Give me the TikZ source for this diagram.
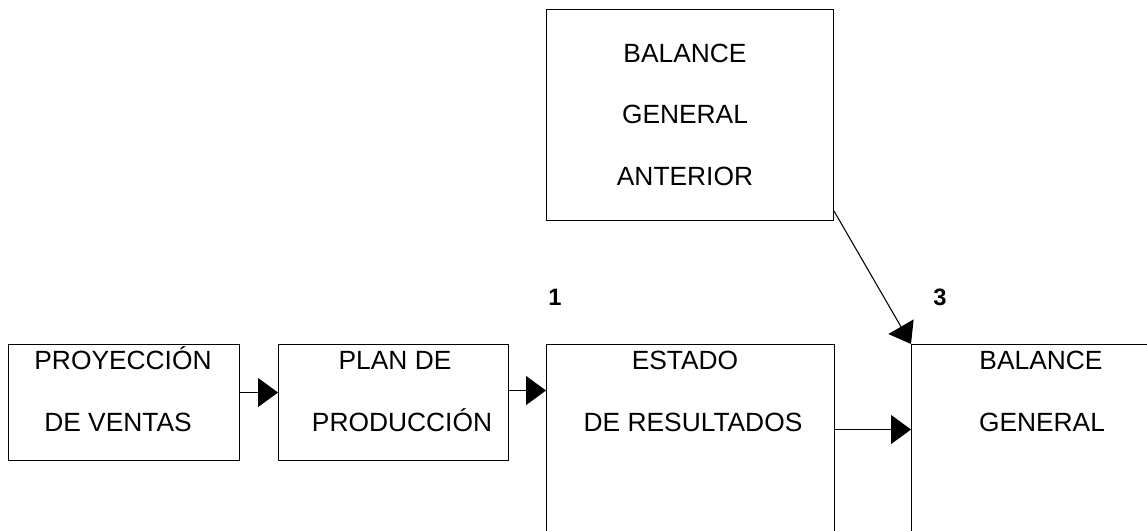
\documentclass[tikz,border=0pt]{standalone}
\usepackage{fontspec}
\setmainfont{Liberation Sans}
\usetikzlibrary{arrows.meta}

\begin{document}
\begin{tikzpicture}[x=0.02cm, y=-0.02cm, line width=0.6pt,
    every node/.style={font=\fontsize{15}{18}\selectfont},
    caja/.style={draw, rectangle, inner sep=0pt, anchor=north west},
    linea/.style={anchor=base, inner sep=0pt},
    numero/.style={anchor=base, inner sep=0pt, font=\fontsize{13.5}{16}\selectfont\bfseries},
    flecha/.style={-{Triangle[length=0.4cm, width=0.58cm]}}]
    \useasboundingbox (0,0) rectangle (1147,531);
    \clip (0,0) rectangle (1147,531);
    \node[caja, minimum width=4.62cm, minimum height=2.32cm] (ventas) at (8,344) {};
    \node[caja, minimum width=4.60cm, minimum height=2.32cm] (produccion) at (278,344) {};
    \node[caja, minimum width=5.76cm, minimum height=5cm] (resultados) at (546,344) {};
    \node[caja, minimum width=6cm, minimum height=5cm] (balance) at (911,344) {};
    \node[caja, minimum width=5.74cm, minimum height=4.22cm] (anterior) at (546,9) {};
    \node[linea] (ventas1) at (123,369) {PROYECCIÓN};
    \node[linea] (ventas2) at (118,431) {DE VENTAS};
    \node[linea] (produccion1) at (395,369) {PLAN DE};
    \node[linea] (produccion2) at (402,431) {PRODUCCIÓN};
    \node[linea] (resultados1) at (685,369) {ESTADO};
    \node[linea] (resultados2) at (693,431) {DE RESULTADOS};
    \node[linea] (balance1) at (1041,369) {BALANCE};
    \node[linea] (balance2) at (1042,431) {GENERAL};
    \node[linea] (anterior1) at (685,62) {BALANCE};
    \node[linea] (anterior2) at (685,123) {GENERAL};
    \node[linea] (anterior3) at (685,185) {ANTERIOR};
    \node[numero] (uno) at (555,305) {1};
    \node[numero] (tres) at (940,305) {3};
    \draw[flecha] ([yshift=0.2cm]ventas.east) -- ([yshift=0.2cm]produccion.west);
    \draw[flecha] ([yshift=0.24cm]produccion.east) -- ([yshift=0.24cm]produccion.east -| resultados.west);
    \draw[flecha] ([yshift=0.8cm]resultados.east) -- ([yshift=0.8cm]balance.west);
    \draw[flecha] ([yshift=0.2cm]anterior.south east) -- (balance.north west);
\end{tikzpicture}
\end{document}
